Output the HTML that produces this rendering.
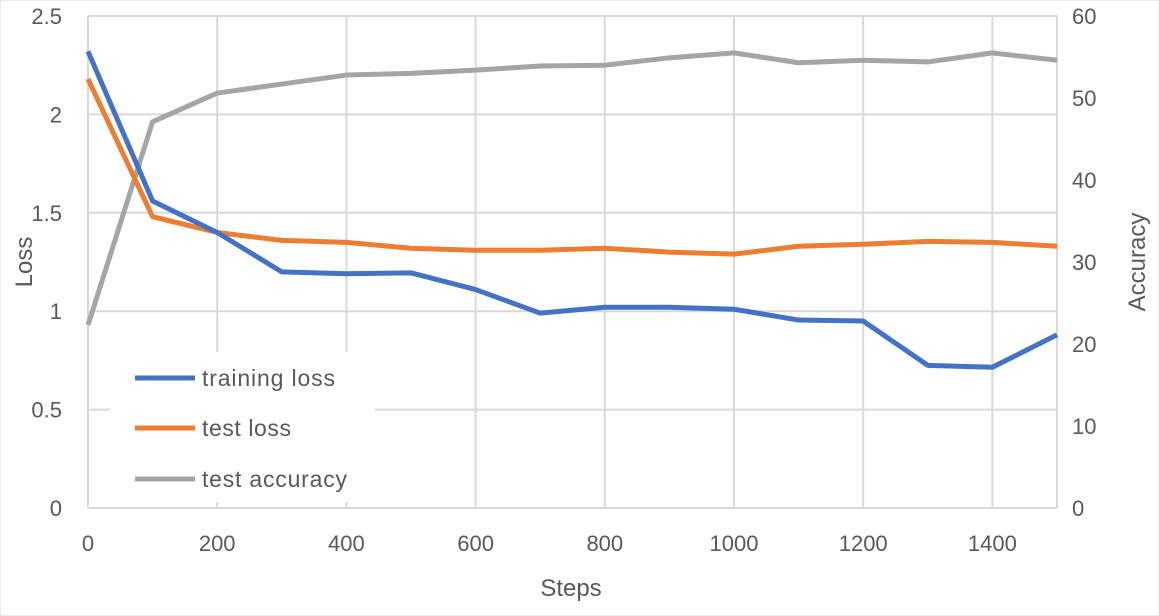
<!DOCTYPE html>
<html><head><meta charset="utf-8"><style>
body{margin:0;background:#fff;}
svg{display:block;font-family:"Liberation Sans",sans-serif;}
</style></head><body>
<svg id="chart" width="1159" height="616" viewBox="0 0 1159 616">
<rect x="0" y="0" width="1159" height="616" fill="#fff" stroke="#d9d9d9"/>
<g id="grid"></g><g id="series"></g><g id="axes"></g>
<g id="legend">
<rect x="110" y="352" width="265" height="150" fill="#fff"/>
<line x1="135" y1="378" x2="195" y2="378" stroke="#4472C4" stroke-width="5"/>
<text x="202" y="386" font-size="23" fill="#595959" textLength="133">training loss</text>
<line x1="135" y1="428" x2="195" y2="428" stroke="#ED7D31" stroke-width="5"/>
<text x="202" y="436" font-size="23" fill="#595959" textLength="89">test loss</text>
<line x1="135" y1="479" x2="195" y2="479" stroke="#A5A5A5" stroke-width="5"/>
<text x="202" y="487" font-size="23" fill="#595959" textLength="145">test accuracy</text>
</g>
<text x="571" y="596" font-size="24" fill="#595959" text-anchor="middle">Steps</text>
<text transform="translate(32,262) rotate(-90)" font-size="24" fill="#595959" text-anchor="middle">Loss</text>
<text transform="translate(1145,262) rotate(-90)" font-size="24" fill="#595959" text-anchor="middle">Accuracy</text>
</svg>
<script>
const steps=[0,100,200,300,400,500,600,700,800,900,1000,1100,1200,1300,1400,1500];
const trainingLoss=[2.32,1.56,1.40,1.20,1.19,1.195,1.11,0.99,1.02,1.02,1.01,0.955,0.95,0.725,0.715,0.88];
const testLoss=[2.18,1.48,1.40,1.36,1.35,1.32,1.31,1.31,1.32,1.30,1.29,1.33,1.34,1.355,1.35,1.33];
const testAccuracy=[22.3,47.1,50.6,51.7,52.8,53.0,53.4,53.9,54.0,54.9,55.5,54.3,54.6,54.4,55.5,54.6];
const xTicks=[0,200,400,600,800,1000,1200,1400];
const lossTicks=[0,0.5,1,1.5,2,2.5];
const accTicks=[0,10,20,30,40,50,60];
const X0=88,X1=1057,YT=16,YB=508;
const sx=v=>X0+(v/1500)*(X1-X0);
const sy=v=>YB-(v/2.5)*(YB-YT);
const sa=v=>YB-(v/60)*(YB-YT);
const NS='http://www.w3.org/2000/svg';
function mk(tag,attrs,parent){const e=document.createElementNS(NS,tag);for(const k in attrs)e.setAttribute(k,attrs[k]);document.getElementById(parent).appendChild(e);return e;}
xTicks.concat([1500]).forEach(t=>{
 const l=mk('line',{x1:sx(t),x2:sx(t),y1:YT,y2:YB,stroke:'#d9d9d9','stroke-width':2},'grid');
 
 
});
lossTicks.forEach(t=>{
 const l=mk('line',{x1:X0,x2:X1,y1:sy(t),y2:sy(t),stroke:'#d9d9d9','stroke-width':2},'grid');
 
 
 const tx=mk('text',{x:62,y:sy(t)+8,'font-size':22,fill:'#595959','text-anchor':'end'},'axes');
 tx.textContent=t;
 
 
});
accTicks.forEach(t=>{
 const tx=mk('text',{x:1072,y:sa(t)+8,'font-size':22,fill:'#595959'},'axes');
 tx.textContent=t;
 
 
});
xTicks.forEach(t=>{
 const tx=mk('text',{x:sx(t),y:551,'font-size':22,fill:'#595959','text-anchor':'middle'},'axes');
 tx.textContent=t;
 
 
});
function line(vals,scale,color,name){
 const p=mk('polyline',{points:vals.map((v,i)=>sx(steps[i])+','+scale(v)).join(' '),fill:'none',stroke:color,'stroke-width':5,'stroke-linejoin':'round'},'series');
 
 
}
line(testAccuracy,sa,'#A5A5A5','test-accuracy-line');
line(testLoss,sy,'#ED7D31','test-loss-line');
line(trainingLoss,sy,'#4472C4','training-loss-line');
</script>
</body></html>
